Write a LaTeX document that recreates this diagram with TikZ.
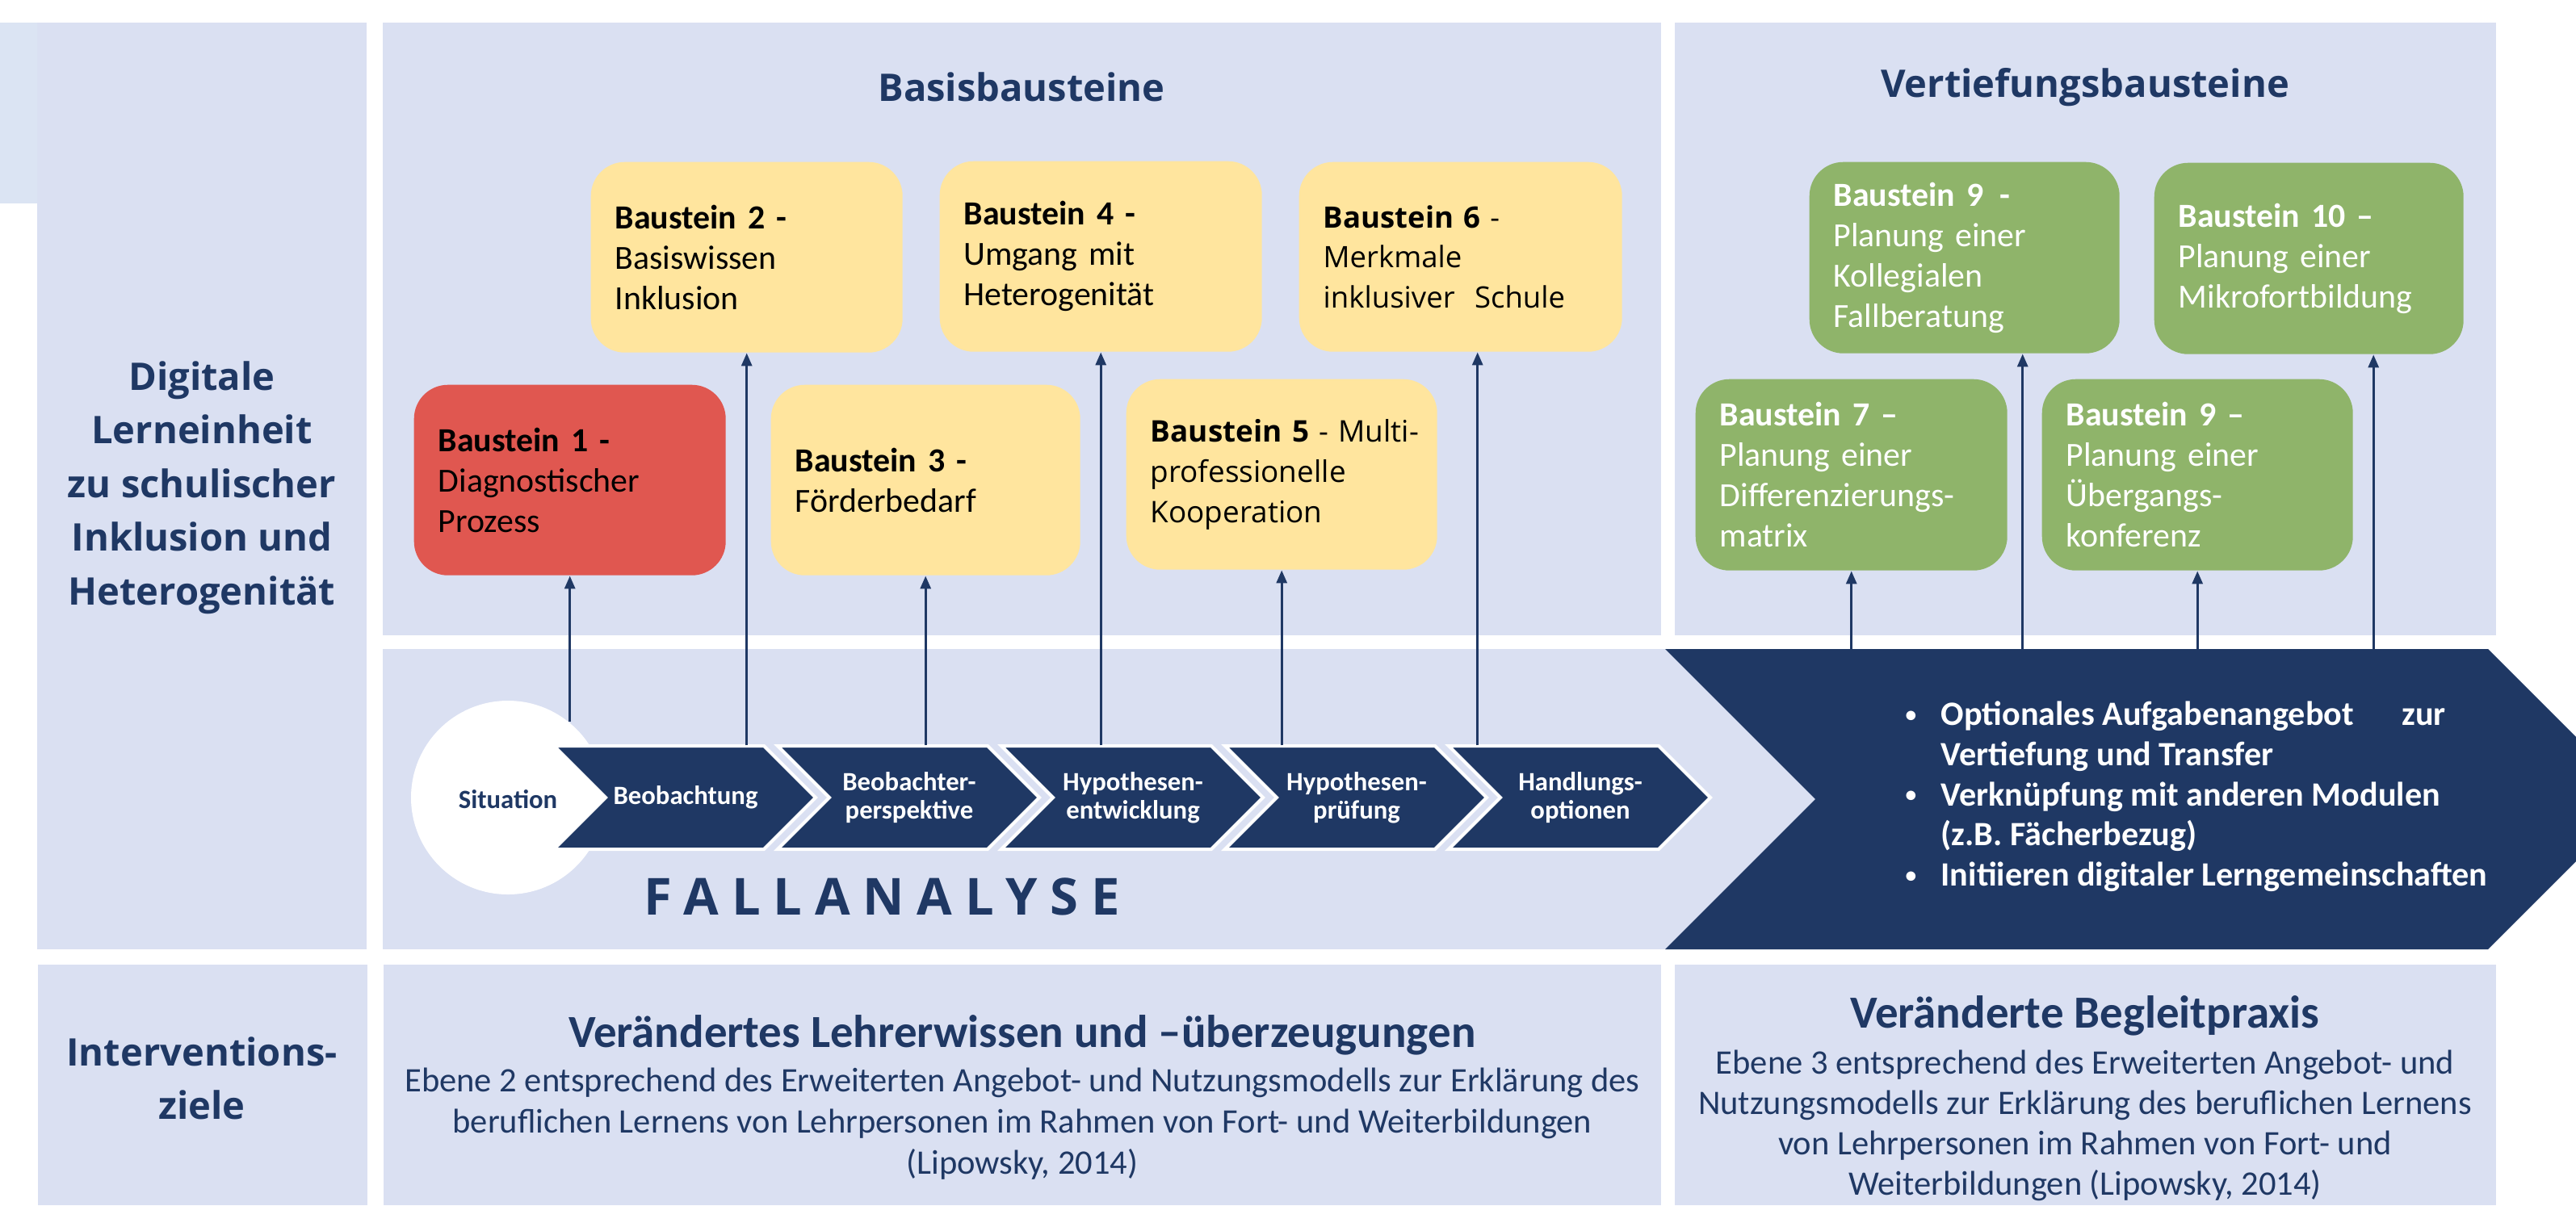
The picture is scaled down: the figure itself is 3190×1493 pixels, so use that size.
\documentclass[tikz,border=0pt]{standalone}
\usepackage{fontspec}
\setmainfont{Carlito}
\newfontfamily\osans{Open Sans}
\newfontfamily\boxfont{Carlito}[WordSpace=0.8]
\usetikzlibrary{arrows.meta}
\definecolor{panel}{RGB}{218,224,242}
\definecolor{strip}{RGB}{219,228,243}
\definecolor{navy}{RGB}{31,56,100}
\definecolor{bred}{RGB}{224,87,80}
\definecolor{byellow}{RGB}{255,229,158}
\definecolor{bgreen}{RGB}{143,180,106}
\newcommand{\smbul}{\raisebox{0.2ex}{\scalebox{0.65}{•}}}
\begin{document}
\begin{tikzpicture}[x=0.1mm,y=-0.1mm,
  bstn/.style={rounded corners=4.2mm, inner xsep=3mm, inner ysep=0pt, align=left,
    anchor=north west, font=\boxfont\fontsize{11.9}{14.2}\selectfont},
  ybox/.style={bstn, fill=byellow, text=black},
  gbox/.style={bstn, fill=bgreen, text=white},
  chevlabel/.style={text=white, font=\fontsize{9.3}{10}\selectfont\bfseries, align=center,
    minimum height=12.8mm, inner sep=0pt},
  chevshape/.style={fill=navy, draw=white, line width=0.4mm},
  arr/.style={draw=navy, line width=0.3mm, -{Triangle[width=1.3mm,length=1.6mm]}},
  hd/.style={text=navy, font=\osans\fontsize{13.4}{18.9}\selectfont\bfseries, align=center},
]
\useasboundingbox (0,0) rectangle (3190,1493);
% panels
\fill[strip] (0,28) rectangle (46,252);
\fill[panel] (46,28) rectangle (454,1176);
\fill[panel] (47,1195) rectangle (455,1493);
\fill[panel] (474,28) rectangle (2057,787);
\fill[panel] (2074,28) rectangle (3091,787);
\fill[panel] (474,804) rectangle (2250,1176);
\fill[panel] (475,1195) rectangle (2057,1493);
\fill[panel] (2074,1195) rectangle (3091,1493);

% left column texts
\node[hd] (lt) at (250,604) {Digitale\\Lerneinheit\\zu schulischer\\Inklusion und\\Heterogenität};
\node[hd] (lz) at (250,1336) {Interventions-\\ziele};

% titles
\node[hd] (tb) at (1265,108) {Basisbausteine};
\node[hd] (tv) at (2582,108) {Vertiefungsbausteine};

% Basis boxes
\node[bstn, fill=bred, text=black, text width=32.6mm, minimum height=23.6mm] (b1) at (512,476)
  {\textbf{Baustein 1 -}\\Diagnostischer\\Prozess};
\node[ybox, text width=32.6mm, minimum height=23.6mm] (b2) at (731,200)
  {\textbf{Baustein 2 -}\\Basiswissen\\Inklusion};
\node[ybox, text width=32.3mm, minimum height=23.6mm] (b3) at (954,476)
  {\textbf{Baustein 3 -}\\Förderbedarf};
\node[ybox, text width=33.9mm, minimum height=23.6mm] (b4) at (1163,199)
  {\textbf{Baustein 4 -}\\Umgang mit\\Heterogenität};
\node[ybox, font=\osans\fontsize{10.5}{14.2}\selectfont, text width=32.5mm, minimum height=23.6mm] (b5) at (1394,469)
  {\mbox{\textbf{Baustein 5} - Multi-}\\professionelle\\Kooperation};
\node[ybox, font=\osans\fontsize{10.4}{14.2}\selectfont, text width=34mm, minimum height=23.5mm] (b6) at (1608,200)
  {\textbf{Baustein 6} -\\Merkmale\\\mbox{inklusiver\ \ Schule}};

% Vertiefung boxes
\node[gbox, text width=32.4mm, minimum height=23.7mm] (b9a) at (2240,200)
  {\textbf{Baustein 9\hspace{2mm}-}\\Planung einer\\Kollegialen\\Fallberatung};
\node[gbox, text width=32.3mm, minimum height=23.7mm] (b10) at (2667,201)
  {\textbf{Baustein 10 –}\\Planung einer\\Mikrofortbildung};
\node[gbox, text width=32.6mm, minimum height=23.7mm] (b7) at (2099,469)
  {\textbf{Baustein 7 –}\\Planung einer\\Differenzierungs-\\matrix};
\node[gbox, text width=32.5mm, minimum height=23.7mm] (b9b) at (2528,469)
  {\textbf{Baustein 9 –}\\Planung einer\\Übergangs-\\konferenz};

% Fallanalyse
\node[circle, fill=white, minimum size=24mm, inner sep=0pt] (sit) at (629,988) {};
\foreach \x in {686,963,1240,1517,1794}{
  \draw[chevshape] (\x,924) -- ++(260,0) -- ++(64,64) -- ++(-64,64) -- ++(-260,0) -- ++(64,-64) -- cycle;
}
\node[text=navy, font=\fontsize{9.3}{10}\selectfont\bfseries] (sitl) at (629,990) {Situation};
\node[chevlabel] (c1) at (849,988) {Beobachtung};
\node[chevlabel] (c2) at (1126,988) {Beobachter-\\perspektive};
\node[chevlabel] (c3) at (1403,988) {Hypothesen-\\entwicklung};
\node[chevlabel] (c4) at (1680,988) {Hypothesen-\\prüfung};
\node[chevlabel] (c5) at (1957,988) {Handlungs-\\optionen};
\node[text=navy, font=\osans\fontsize{18}{20}\selectfont\bfseries\addfontfeature{LetterSpace=25}] (fa) at (1092,1111) {FALLANALYSE};

% big chevron
\fill[navy] (2062,804) -- (3081,804) -- (3190,913) -- (3190,1067) -- (3081,1176) -- (2062,1176) -- (2248,990) -- cycle;
\coordinate (bigtop) at (2600,804);
\node[anchor=west, text=white, inner sep=0pt, font=\fontsize{12}{14.2}\selectfont\bfseries] (bul) at (2359,988)
  {\begin{tabular}{@{}p{4.4mm}@{}l@{}}
  \smbul & Optionales Aufgabenangebot\hspace{5mm} zur\\
    & Vertiefung und Transfer\\
  \smbul & Verknüpfung mit anderen Modulen\\
    & (z.B. Fächerbezug)\\
  \smbul & Initiieren digitaler Lerngemeinschaften
  \end{tabular}};

% bottom row
\node[text=navy, font=\fontsize{16.2}{18}\selectfont\bfseries] (zt1) at (1266,1282) {Verändertes Lehrerwissen und –überzeugungen};
\node[text=navy, align=center, font=\fontsize{12.1}{14.5}\selectfont] (zb1) at (1266,1392)
  {Ebene 2 entsprechend des Erweiterten Angebot- und Nutzungsmodells zur Erklärung des\\
   beruflichen Lernens von Lehrpersonen im Rahmen von Fort- und Weiterbildungen\\
   (Lipowsky, 2014)};
\node[text=navy, font=\fontsize{16.2}{18}\selectfont\bfseries] (zt2) at (2582,1258) {Veränderte Begleitpraxis};
\node[text=navy, align=center, font=\fontsize{12.1}{14.2}\selectfont] (zb2) at (2582,1394)
  {Ebene 3 entsprechend des Erweiterten Angebot- und\\
   Nutzungsmodells zur Erklärung des beruflichen Lernens\\
   von Lehrpersonen im Rahmen von Fort- und\\
   Weiterbildungen (Lipowsky, 2014)};

% arrows
\draw[arr] (b1.south |- sit.51) -- (b1.south);
\draw[arr] (b2.south |- c1.north) -- (b2.south);
\draw[arr] (b3.south |- c2.north) -- (b3.south);
\draw[arr] (b4.south |- c3.north) -- (b4.south);
\draw[arr] (b5.south |- c4.north) -- (b5.south);
\draw[arr] ([xshift=2.1mm]b6.south |- c5.north) -- ([xshift=2.1mm]b6.south);
\draw[arr] (b7.south |- bigtop) -- (b7.south);
\draw[arr] ([xshift=7.2mm]b9a.south |- bigtop) -- ([xshift=7.2mm]b9a.south);
\draw[arr] (b9b.south |- bigtop) -- (b9b.south);
\draw[arr] ([xshift=8mm]b10.south |- bigtop) -- ([xshift=8mm]b10.south);
\end{tikzpicture}
\end{document}
